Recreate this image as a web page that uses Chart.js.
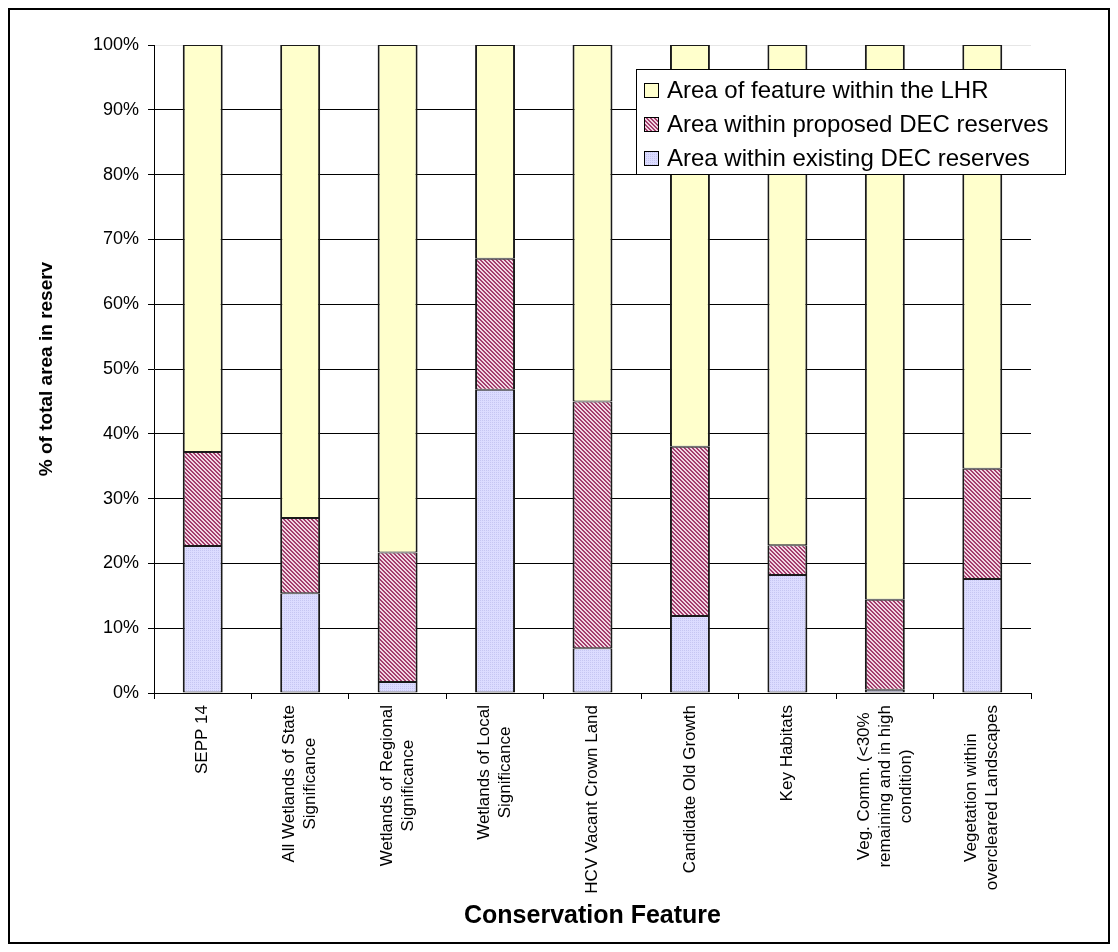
<!DOCTYPE html>
<html>
<head>
<meta charset="utf-8">
<title>Conservation Feature</title>
<script src="https://cdn.jsdelivr.net/npm/chart.js@4.4.1/dist/chart.umd.min.js"></script>
<style>
    body { margin: 0; background: #fff; }
    canvas { display: block; }
</style>
</head>
<body>
<canvas id="reserveChart" width="1118" height="952"></canvas>
<script>
/* categories and stacked shares (% of each feature) */
var categories = [
    ["SEPP 14"],
    ["All Wetlands of State", "Significance"],
    ["Wetlands of Regional", "Significance"],
    ["Wetlands of Local", "Significance"],
    ["HCV Vacant Crown Land"],
    ["Candidate Old Growth"],
    ["Key Habitats"],
    ["Veg. Comm. (<30%", "remaining and in high", "condition)"],
    ["Vegetation within", "overcleared Landscapes"]
];
var existingReserves = [22.7, 15.4, 1.7, 46.8, 6.9, 11.9, 18.2, 0.5, 17.6];
var proposedReserves = [14.5, 11.6, 20.0, 20.2, 38.1, 26.1, 4.6, 13.9, 17.0];
var withinLHR = [62.8, 73.0, 78.3, 33.0, 55.0, 62.0, 77.2, 85.6, 65.4];
var yTicks = [0, 10, 20, 30, 40, 50, 60, 70, 80, 90, 100];

var FONT = "'Liberation Sans', Arial, sans-serif";

/* little repeat tiles for the bar fills */
function makePattern(size, draw) {
    var c = document.createElement("canvas");
    c.width = size;
    c.height = size;
    var g = c.getContext("2d");
    draw(g);
    return g.createPattern(c, "repeat");
}

var dotted = makePattern(2, function(g) {
    g.fillStyle = "#dcdcff";
    g.fillRect(0, 0, 2, 2);
    g.fillStyle = "#c6c6f2";
    g.fillRect(0, 0, 1, 1);
});

var hatched = makePattern(4, function(g) {
    for (var x = 0; x < 4; x++) {
        for (var y = 0; y < 4; y++) {
            g.fillStyle = (((x - y) % 4 + 4) % 4) < 2 ? "#a33d6d" : "#f2d6e3";
            g.fillRect(x, y, 1, 1);
        }
    }
});

var barBorder = { top: 1, bottom: 1, left: 2, right: 2 };

// frame, rotated category labels and the boxed legend
var decorations = {
    id: "decorations",
    afterDraw: function(chart) {
        var ctx = chart.ctx;
        var xScale = chart.scales.x;
        ctx.save();

        // outer frame
        ctx.strokeStyle = "#000";
        ctx.lineWidth = 2;
        ctx.strokeRect(9, 9, 1100, 934);

        // category labels, read downward, lines centred on each other
        ctx.font = "17px " + FONT;
        ctx.fillStyle = "#000";
        ctx.textAlign = "center";
        ctx.textBaseline = "middle";
        var lh = 21;
        var top = xScale.top + 12;
        categories.forEach(function(lines, i) {
            var w = 0;
            lines.forEach(function(l) { w = Math.max(w, ctx.measureText(l).width); });
            var x = xScale.getPixelForValue(i);
            ctx.save();
            ctx.translate(x, top + w / 2);
            ctx.rotate(-Math.PI / 2);
            lines.forEach(function(l, j) {
                ctx.fillText(l, 0, (j - (lines.length - 1) / 2) * lh);
            });
            ctx.restore();
        });

        // legend box (top series first)
        ctx.fillStyle = "#fff";
        ctx.fillRect(636, 69, 430, 106);
        ctx.lineWidth = 1;
        ctx.strokeRect(636.5, 69.5, 429, 105);
        ctx.font = "24px " + FONT;
        ctx.textAlign = "left";
        var sets = chart.data.datasets.slice().reverse();
        sets.forEach(function(ds, k) {
            var y = 90 + k * 34;
            ctx.fillStyle = ds.backgroundColor;
            ctx.fillRect(644, y - 7, 15, 15);
            ctx.strokeStyle = "#000";
            ctx.strokeRect(644.5, y - 6.5, 14, 14);
            ctx.fillStyle = "#000";
            ctx.fillText(ds.label, 667, y + 1);
        });
        ctx.restore();
    }
};

var chart = new Chart(document.getElementById("reserveChart"), {
    type: "bar",
    data: {
        labels: categories,
        datasets: [{
            label: "Area within existing DEC reserves",
            data: existingReserves,
            backgroundColor: dotted,
            borderColor: "#1a1a1a",
            borderWidth: barBorder,
            borderSkipped: false
        }, {
            label: "Area within proposed DEC reserves",
            data: proposedReserves,
            backgroundColor: hatched,
            borderColor: "#1a1a1a",
            borderWidth: barBorder,
            borderSkipped: false
        }, {
            label: "Area of feature within the LHR",
            data: withinLHR,
            backgroundColor: "#ffffcc",
            borderColor: "#1a1a1a",
            borderWidth: barBorder,
            borderSkipped: false
        }]
    },
    options: {
        responsive: false,
        animation: false,
        layout: {
            padding: { left: 0, right: 87, top: 45, bottom: 0 }
        },
        datasets: {
            bar: { barPercentage: 0.41, categoryPercentage: 1 }
        },
        plugins: {
            legend: { display: false },
            tooltip: { enabled: false }
        },
        scales: {
            x: {
                stacked: true,
                afterFit: function(scale) { scale.height = 952 - 693; },
                grid: {
                    offset: true,
                    drawOnChartArea: false,
                    drawTicks: true,
                    tickLength: 6,
                    color: "#000"
                },
                border: { display: true, color: "#000", width: 1 },
                ticks: { display: false, autoSkip: false },
                title: {
                    display: true,
                    text: "Conservation Feature",
                    color: "#000",
                    font: { family: FONT, size: 25, weight: "bold" },
                    padding: { top: 0, bottom: 21 }
                }
            },
            y: {
                stacked: true,
                min: 0,
                max: 100,
                afterFit: function(scale) { scale.width = 154; },
                afterBuildTicks: function(scale) {
                    scale.ticks = yTicks.map(function(v) { return { value: v }; });
                },
                grid: {
                    color: function(c) { return c.tick && c.tick.value === 100 ? "#e6e6e6" : "#000"; },
                    tickColor: "#000",
                    tickLength: 6
                },
                border: { display: true, color: "#000", width: 1 },
                ticks: {
                    padding: 9,
                    color: "#000",
                    font: { family: FONT, size: 18 },
                    callback: function(v) { return v + "%"; }
                },
                title: {
                    display: true,
                    text: "% of total area in reserv",
                    color: "#000",
                    font: { family: FONT, size: 19, weight: "bold" },
                    padding: { top: 35, bottom: 0 }
                }
            }
        }
    },
    plugins: [decorations]
});
</script>
</body>
</html>
